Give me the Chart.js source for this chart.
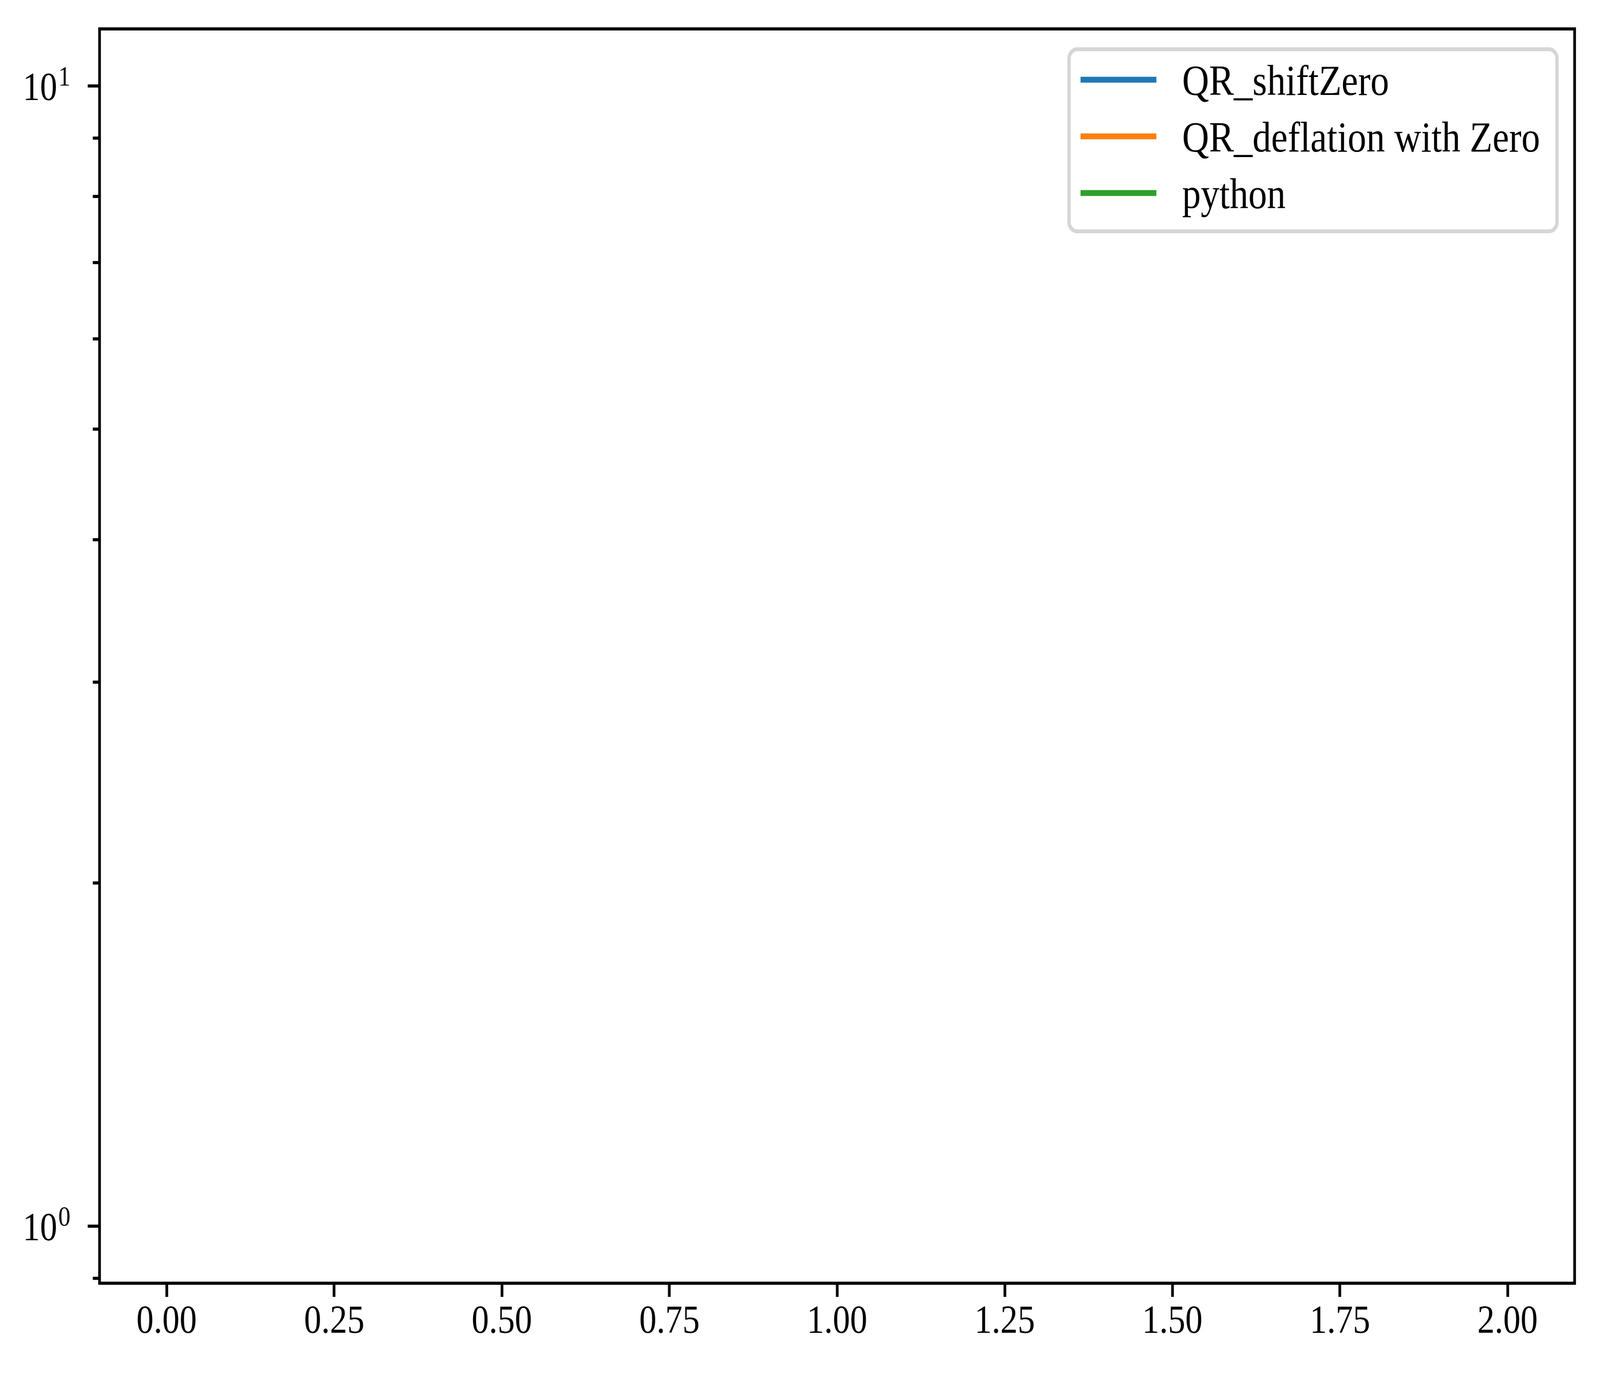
<!DOCTYPE html>
<html>
<head>
<meta charset="utf-8">
<script src="https://cdn.jsdelivr.net/npm/chart.js@4.4.1/dist/chart.umd.min.js"></script>
<style>
  html, body { margin: 0; padding: 0; background: #fff; overflow: hidden; }
  canvas { display: block; }
</style>
</head>
<body>
<canvas id="chart" width="4725" height="3524"></canvas>
<script>
// series: three runs, none of them has a point that shows on the log axis
const seriesLabels = ['QR_shiftZero', 'QR_deflation with Zero', 'python'];
const seriesColors = ['#1f77b4', '#ff7f0e', '#2ca02c'];
const xValues = [0, 1, 2];
const qrShiftZero = [null, null, null];
const qrDeflationZero = [null, null, null];
const pythonValues = [null, null, null];

const xTicks = [0, 0.25, 0.5, 0.75, 1, 1.25, 1.5, 1.75, 2];
const yMajorTicks = [1, 10];
const yMinorTicks = [0.9, 2, 3, 4, 5, 6, 7, 8, 9];

const FONT = "'Liberation Serif', 'Times New Roman', serif";
const TICK_PX = 102;

const allSeries = [qrShiftZero, qrDeflationZero, pythonValues];

const datasets = allSeries.map((vals, i) => ({
  label: seriesLabels[i],
  data: xValues.map((x, j) => ({ x: x, y: vals[j] })),
  borderColor: seriesColors[i],
  backgroundColor: seriesColors[i],
  borderWidth: 15,
  pointRadius: 0,
  fill: false
}));

// frame, y ticks with major/minor lengths, 10^n labels, legend box
const axesPlugin = {
  id: 'axesPlugin',
  beforeDraw(chart) {
    const ctx = chart.ctx;
    ctx.save();
    ctx.fillStyle = '#fff';
    ctx.fillRect(0, 0, chart.width, chart.height);
    ctx.restore();
  },
  afterDraw(chart) {
    const ctx = chart.ctx;
    const area = chart.chartArea;
    const y = chart.scales.y;
    ctx.save();

    ctx.strokeStyle = '#000';
    ctx.lineWidth = 8;
    ctx.strokeRect(area.left, area.top, area.right - area.left, area.bottom - area.top);

    ctx.lineWidth = 8;
    ctx.beginPath();
    yMajorTicks.forEach(v => {
      const py = y.getPixelForValue(v);
      ctx.moveTo(area.left - 35, py);
      ctx.lineTo(area.left, py);
    });
    yMinorTicks.forEach(v => {
      const py = y.getPixelForValue(v);
      ctx.moveTo(area.left - 20, py);
      ctx.lineTo(area.left, py);
    });
    ctx.stroke();

    ctx.fillStyle = '#000';
    ctx.textBaseline = 'alphabetic';
    ctx.textAlign = 'right';
    yMajorTicks.forEach(v => {
      const py = y.getPixelForValue(v);
      const exp = String(Math.round(Math.log10(v)));
      const supRight = area.left - 86;
      ctx.font = `72px ${FONT}`;
      const supW = ctx.measureText(exp).width;
      ctx.fillText(exp, supRight, py - 1);
      ctx.font = `${TICK_PX}px ${FONT}`;
      ctx.fillText('10', supRight - supW - 3, py + 36);
    });

    // legend
    const fontPx = 110;
    ctx.font = `${fontPx}px ${FONT}`;
    const textW = Math.max(...seriesLabels.map(s => ctx.measureText(s).width));
    const boxRight = area.right - 52;
    const boxTop = area.top + 52;
    const rowGap = 145;
    const boxW = 34 + 224 + 76 + textW + 50;
    const boxH = 78 + rowGap * (seriesLabels.length - 1) + 98;
    const boxLeft = boxRight - boxW;

    ctx.beginPath();
    ctx.roundRect(boxLeft, boxTop, boxW, boxH, 24);
    ctx.fillStyle = '#fff';
    ctx.fill();
    ctx.lineWidth = 10;
    ctx.strokeStyle = '#d6d6d6';
    ctx.stroke();

    seriesLabels.forEach((label, i) => {
      const cy = boxTop + 78 + i * rowGap;
      ctx.beginPath();
      ctx.lineWidth = 15;
      ctx.strokeStyle = seriesColors[i];
      ctx.moveTo(boxLeft + 34, cy);
      ctx.lineTo(boxLeft + 34 + 224, cy);
      ctx.stroke();
      ctx.fillStyle = '#000';
      ctx.textAlign = 'left';
      ctx.fillText(label, boxLeft + 34 + 224 + 76, cy + 39);
    });

    ctx.restore();
  }
};

const canvas = document.getElementById('chart');
new Chart(canvas, {
  type: 'line',
  data: { datasets: datasets },
  options: {
    responsive: false,
    animation: false,
    devicePixelRatio: 1,
    layout: { padding: { left: 0, top: 74, right: 75, bottom: 0 } },
    plugins: {
      legend: { display: false },
      tooltip: { enabled: false }
    },
    scales: {
      x: {
        type: 'linear',
        min: -0.1,
        max: 2.1,
        afterBuildTicks: s => { s.ticks = xTicks.map(v => ({ value: v })); },
        afterFit: s => { s.height = 240; },
        ticks: {
          autoSkip: false,
          maxRotation: 0,
          padding: 4,
          color: '#000',
          font: { family: FONT, size: TICK_PX },
          callback: v => Number(v).toFixed(2)
        },
        grid: { display: true, drawOnChartArea: false, drawTicks: true, tickLength: 35, tickWidth: 8, tickColor: '#000' },
        border: { display: false }
      },
      y: {
        type: 'logarithmic',
        min: Math.pow(10, -0.05),
        max: Math.pow(10, 1.05),
        afterBuildTicks: s => { s.ticks = yMajorTicks.concat(yMinorTicks).map(v => ({ value: v })); },
        afterFit: s => { s.width = 294; },
        ticks: { display: false },
        grid: { display: false },
        border: { display: false }
      }
    }
  },
  plugins: [axesPlugin]
});
// the bitmap is 4725x3524; stretch it over the whole window so it maps 1:1 to the photo
canvas.style.width = '100vw';
canvas.style.height = '100vh';
</script>
</body>
</html>
